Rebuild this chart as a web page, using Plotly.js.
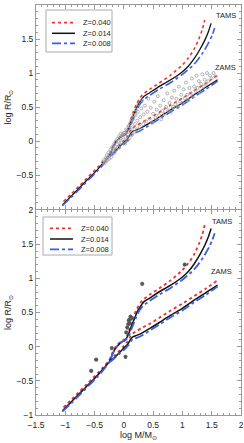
<!DOCTYPE html>
<html><head><meta charset="utf-8">
<script src="https://cdn.plot.ly/plotly-3.0.1.min.js"></script>
<style>html,body{margin:0;padding:0;background:#fff}#c{width:244px;height:443px}</style>
</head><body><div id="c"></div>
<script>
// ---- Model tracks (TAMS branch incl. common lower part) ----
const tamsX_040 = [-1.03,-0.9,-0.75,-0.6,-0.45,-0.35,-0.25,-0.2,-0.14,-0.06,0.0,0.06,0.11,0.16,0.22,0.28,0.32,0.44,0.6,0.8,1.0,1.1,1.2,1.28,1.34,1.38];
const tamsY_040 = [-0.89,-0.78,-0.65,-0.52,-0.39,-0.30,-0.20,-0.10,0.0,0.07,0.10,0.17,0.30,0.43,0.55,0.64,0.68,0.76,0.85,0.97,1.12,1.22,1.35,1.50,1.64,1.78];
const zamsX_040 = [-0.25,-0.16,-0.08,0.0,0.06,0.11,0.15,0.2,0.3,0.45,0.6,0.8,1.0,1.2,1.4,1.6];
const zamsY_040 = [-0.20,-0.13,-0.06,0.01,0.07,0.15,0.19,0.22,0.27,0.34,0.42,0.53,0.63,0.74,0.85,0.97];

const tamsX_014 = [-1.05,-0.9,-0.75,-0.6,-0.45,-0.35,-0.245,-0.19,-0.13,-0.05,0.01,0.07,0.125,0.18,0.24,0.3,0.34,0.44,0.6,0.8,1.0,1.1,1.2,1.3,1.38,1.44,1.49];
const tamsY_014 = [-0.94,-0.81,-0.68,-0.55,-0.42,-0.32,-0.22,-0.10,-0.01,0.06,0.09,0.16,0.29,0.41,0.53,0.61,0.655,0.71,0.80,0.90,1.02,1.10,1.21,1.35,1.48,1.60,1.73];
const zamsX_014 = [-0.245,-0.16,-0.074,0.011,0.068,0.125,0.154,0.22,0.33,0.45,0.6,0.8,1.0,1.2,1.4,1.6];
const zamsY_014 = [-0.22,-0.16,-0.084,-0.01,0.04,0.12,0.145,0.165,0.21,0.27,0.35,0.46,0.56,0.68,0.79,0.90];

const tamsX_008 = [-1.05,-0.9,-0.75,-0.6,-0.45,-0.35,-0.25,-0.19,-0.12,-0.04,0.02,0.08,0.14,0.2,0.26,0.32,0.36,0.44,0.6,0.8,1.0,1.2,1.35,1.45,1.51,1.55];
const tamsY_008 = [-0.95,-0.83,-0.70,-0.57,-0.44,-0.34,-0.23,-0.10,0.0,0.07,0.09,0.15,0.28,0.41,0.52,0.59,0.62,0.67,0.76,0.86,0.98,1.13,1.30,1.45,1.56,1.66];
const zamsX_008 = [-0.25,-0.16,-0.07,0.02,0.08,0.13,0.17,0.22,0.3,0.45,0.6,0.8,1.0,1.2,1.4,1.6];
const zamsY_008 = [-0.23,-0.17,-0.10,-0.03,0.02,0.09,0.12,0.13,0.16,0.24,0.32,0.43,0.53,0.65,0.76,0.88];

const seriesNames = ["Z=0.040","Z=0.014","Z=0.008"];

// ---- Observed stars, top panel ----
const obsTopX = [-0.36,-0.34,-0.33,-0.31,-0.30,-0.29,-0.28,-0.27,-0.26,-0.25,-0.24,-0.23,-0.22,-0.21,-0.20,-0.19,-0.18,-0.17,-0.16,-0.15,-0.14,-0.13,-0.12,-0.11,-0.10,-0.09,-0.08,-0.07,-0.06,-0.05,-0.04,-0.03,-0.02,-0.01,0.00,0.01,0.02,0.03,0.04,0.05,0.06,0.07,0.08,0.09,0.10,0.11,0.12,0.13,0.14,0.15,0.16,0.17,0.18,0.19,0.20,0.21,0.22,0.23,0.24,0.25,0.27,0.28,0.30,0.31,0.33,0.34,0.36,0.38,0.40,0.42,0.44,0.46,0.48,0.50,0.52,0.54,0.56,0.58,0.60,0.62,0.64,0.66,0.68,0.70,0.72,0.74,0.76,0.78,0.80,0.82,0.84,0.86,0.88,0.90,0.92,0.94,0.96,0.98,1.00,1.02,1.04,1.06,1.08,1.10,1.12,1.14,1.16,1.18,1.20,1.22,1.24,1.26,1.28,1.30,1.32,1.34,1.36,1.38,1.40,1.42,1.44,1.47,1.50,1.53,1.57];
const obsTopY = [-0.31,-0.28,-0.33,-0.25,-0.30,-0.21,-0.27,-0.23,-0.17,-0.26,-0.20,-0.13,-0.24,-0.16,-0.09,-0.20,-0.12,-0.05,-0.17,-0.08,-0.01,-0.13,-0.05,0.03,-0.10,0.00,0.07,-0.06,0.04,0.11,-0.02,0.08,0.10,0.02,0.12,0.12,-0.04,0.06,0.17,0.15,0.01,0.10,0.22,0.22,0.05,0.15,0.28,0.31,0.09,0.20,0.33,0.38,0.13,0.25,0.38,0.46,0.17,0.30,0.43,0.54,0.21,0.35,0.48,0.60,0.25,0.39,0.52,0.29,0.43,0.62,0.33,0.49,0.27,0.40,0.58,0.34,0.46,0.66,0.38,0.52,0.32,0.44,0.60,0.40,0.50,0.70,0.45,0.56,0.42,0.64,0.50,0.74,0.54,0.62,0.50,0.80,0.58,0.68,0.56,0.76,0.63,0.86,0.68,0.60,0.78,0.70,0.92,0.66,0.80,0.74,0.96,0.78,0.88,0.72,0.84,0.98,0.80,0.90,0.84,1.00,0.88,0.96,0.92,1.00,0.95];

// ---- Observed stars, bottom panel ----
const obsBotX = [-0.558,-0.473,-0.205,0.028,0.04,0.057,0.075,0.085,0.097,0.105,0.114,0.125,0.313,1.04];
const obsBotY = [-0.355,-0.19,-0.02,-0.148,0.21,0.28,0.33,0.385,0.34,0.40,0.44,0.42,0.92,1.20];

const yTicksTop = [-0.5,0,0.5,1,1.5,2];
const yTicksBot = [-1,-0.5,0,0.5,1,1.5,2];

const styles = [
  {color:'#ee3333', dash:'dot', width:1.6},
  {color:'#111111', dash:'solid', width:1.3},
  {color:'#3a5ee0', dash:'dashdot', width:1.6}
];
const tracks = [
  [tamsX_040,tamsY_040,zamsX_040,zamsY_040],
  [tamsX_014,tamsY_014,zamsX_014,zamsY_014],
  [tamsX_008,tamsY_008,zamsX_008,zamsY_008]
];

const data = [];
['x2','x'].forEach((xa,pi)=>{
  const ya = pi===0 ? 'y2' : 'y';
  tracks.forEach((t,i)=>{
    data.push({x:t[0].concat([null],t[2]), y:t[1].concat([null],t[3]), xaxis:xa, yaxis:ya,
      mode:'lines', line:{color:styles[i].color, dash:styles[i].dash, width:styles[i].width*(pi===1?1.15:1), shape:'spline', smoothing:0.6},
      connectgaps:false, showlegend:false, hoverinfo:'skip', name:seriesNames[i]});
  });
});
data.push({x:obsTopX, y:obsTopY, xaxis:'x2', yaxis:'y2', mode:'markers', showlegend:false,
  marker:{symbol:'circle-open', size:3, color:'#a0a0a0', line:{width:0.8, color:'#a0a0a0'}}});
data.push({x:obsBotX, y:obsBotY, xaxis:'x', yaxis:'y', mode:'markers', showlegend:false,
  marker:{symbol:'asterisk-open', size:3.5, color:'#555', line:{width:1.1, color:'#555'}}});

const F = 'Liberation Sans, Arial, sans-serif';
const axBase = {
  showline:true, linecolor:'#999', linewidth:1, mirror:'allticks', ticks:'inside', ticklen:4, tickcolor:'#999',
  showgrid:false, zeroline:false, tickfont:{family:F, size:8.5, color:'#222'},
  minor:{ticks:'inside', ticklen:2, dtick:0.1, tickcolor:'#999', showgrid:false}
};
const L = 36, R = 3, T = 5, B = 28, W = 244, H = 443;
const pw = W-L-R, ph = H-T-B;
const px = v => (v-L)/pw;
const py = v => (H-B-v)/ph;

const shapes = [], annotations = [];
function legendBox(x0,x1,y0,y1,rows,lx0,lx1,tx){
  shapes.push({type:'rect', xref:'paper', yref:'paper', x0:px(x0), x1:px(x1), y0:py(y1), y1:py(y0), line:{color:'#aaa', width:1}, fillcolor:'#fff'});
  rows.forEach((r,i)=>{
    shapes.push({type:'line', xref:'paper', yref:'paper', x0:px(lx0), x1:px(lx1), y0:py(r), y1:py(r), line:{color:styles[i].color, dash:styles[i].dash, width:styles[i].width+0.2}});
    annotations.push({xref:'paper', yref:'paper', x:px(tx), y:py(r), text:seriesNames[i], showarrow:false, xanchor:'left', yanchor:'middle', font:{family:F, size:7.5, color:'#222'}});
  });
}
legendBox(46,112,10,52,[22.7,33.3,43.3],52,75,81);
legendBox(43,112,217,255,[228.3,239,249.3],50,73,79);

annotations.push({xref:'x2', yref:'y2', x:1.75, y:1.84, text:'TAMS', showarrow:false, font:{family:F, size:7.5, color:'#222'}});
annotations.push({xref:'x2', yref:'y2', x:1.74, y:1.08, text:'ZAMS', showarrow:false, font:{family:F, size:7.5, color:'#222'}});
annotations.push({xref:'x', yref:'y', x:1.68, y:1.83, text:'TAMS', showarrow:false, font:{family:F, size:7.5, color:'#222'}});
annotations.push({xref:'x', yref:'y', x:1.66, y:1.10, text:'ZAMS', showarrow:false, font:{family:F, size:7.5, color:'#222'}});

const layout = {
  width:W, height:H, margin:{l:L, r:R, t:T, b:B}, paper_bgcolor:'#fff', plot_bgcolor:'#fff',
  showlegend:false, font:{family:F, size:8.5, color:'#222'},
  xaxis: Object.assign({}, axBase, {anchor:'y', range:[-1.5,2], dtick:0.5, tick0:0, ticklabelstandoff:2,
    title:{text:'log M/M<sub>⊙</sub>', font:{family:F, size:9, color:'#222'}, standoff:0}}),
  xaxis2: Object.assign({}, axBase, {anchor:'y2', matches:'x', range:[-1.5,2], dtick:0.5, tick0:0, showticklabels:false}),
  yaxis: Object.assign({}, axBase, {domain:[0,0.5], anchor:'x', range:[-1,2], tickmode:'array', tickvals:yTicksBot,
    title:{text:'log R/R<sub>⊙</sub>', font:{family:F, size:9, color:'#222'}, standoff:3}}),
  yaxis2: Object.assign({}, axBase, {domain:[0.5024,1], anchor:'x2', range:[-1,2], tickmode:'array', tickvals:yTicksTop,
    title:{text:'log R/R<sub>⊙</sub>', font:{family:F, size:9, color:'#222'}, standoff:3}}),
  shapes:shapes, annotations:annotations
};
Plotly.newPlot('c', data, layout, {staticPlot:true, displayModeBar:false});
</script></body></html>
